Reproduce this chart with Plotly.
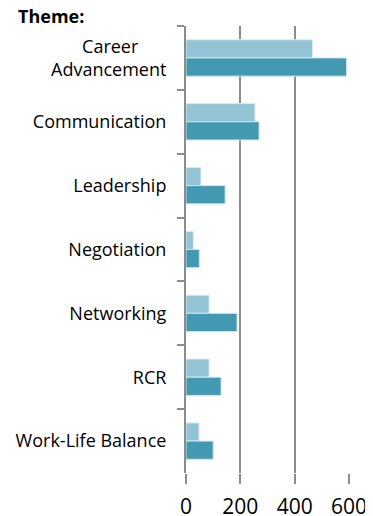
import plotly.graph_objects as go

categories = ["Career\u00a0\u00a0\u00a0\u00a0\u00a0\u00a0<br>Advancement", "Communication", "Leadership", "Negotiation",
              "Networking", "RCR", "Work-Life Balance"]
series_light = [466, 254, 55, 27, 85, 85, 48]
series_dark = [591, 269, 144, 49, 188, 129, 100]
x_ticks = [0, 200, 400, 600]

fig = go.Figure()
fig.add_trace(go.Bar(y=categories, x=series_light, orientation="h",
                     marker=dict(color="#93C4D5", line=dict(color="#DDEEF3", width=1))))
fig.add_trace(go.Bar(y=categories, x=series_dark, orientation="h",
                     marker=dict(color="#4399B1", line=dict(color="#CFE5EC", width=1))))

fig.update_layout(
    width=365, height=508,
    margin=dict(l=178, r=24, t=18, b=43),
    barmode="group", bargap=0.43, bargroupgap=0,
    showlegend=False,
    plot_bgcolor="white", paper_bgcolor="white",
    font=dict(family="Open Sans", color="#000000"),
    xaxis=dict(range=[0, 600], tickvals=x_ticks, showgrid=True, gridcolor="#8C8C8C",
               gridwidth=2, zeroline=False, showline=False, ticks="outside",
               ticklen=10, tickwidth=2, tickcolor="#8C8C8C", automargin=False,
               tickfont=dict(size=21, family="Open Sans"), ticklabelstandoff=5),
    yaxis=dict(autorange="reversed", showline=True, linecolor="#8C8C8C", linewidth=2,
               ticks="outside", tickson="boundaries", ticklen=7, tickwidth=2,
               tickcolor="#8C8C8C", showgrid=False, automargin=False,
               tickfont=dict(size=18, family="Open Sans"), ticklabelstandoff=14),
    annotations=[dict(text="<b>Theme:</b>", xref="paper", yref="paper", x=-178/163, y=1,
                      xanchor="left", yanchor="bottom", yshift=-4, xshift=8, showarrow=False,
                      font=dict(size=18, family="Open Sans"))],
)

fig.write_html("out.html")
